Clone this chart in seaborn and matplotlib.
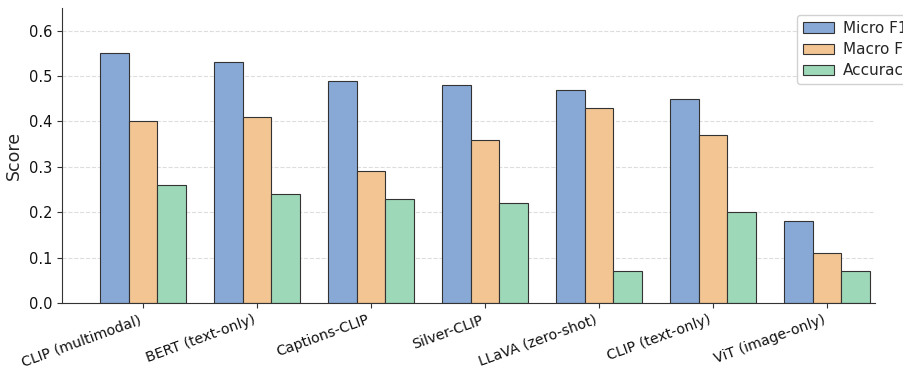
import matplotlib
matplotlib.use("Agg")
import matplotlib.pyplot as plt
import seaborn as sns
import pandas as pd
from matplotlib.patches import Patch

models = ["CLIP (multimodal)", "BERT (text-only)", "Captions-CLIP", "Silver-CLIP",
          "LLaVA (zero-shot)", "CLIP (text-only)", "ViT (image-only)"]
micro_f1 = [0.55, 0.53, 0.49, 0.48, 0.47, 0.45, 0.18]
macro_f1 = [0.40, 0.41, 0.29, 0.36, 0.43, 0.37, 0.11]
accuracy = [0.26, 0.24, 0.23, 0.22, 0.07, 0.20, 0.07]
metrics = ["Micro F1", "Macro F1", "Accuracy"]
colors = ["#88a9d6", "#f2c592", "#9dd8b8"]

rows = []
for name, vals in zip(metrics, [micro_f1, macro_f1, accuracy]):
    for m, v in zip(models, vals):
        rows.append({"Model": m, "Metric": name, "Score": v})
df = pd.DataFrame(rows)

sns.set_style("white")
plt.rcParams["font.family"] = ["DejaVu Sans"]
fig = plt.figure(figsize=(9.04, 3.67), dpi=100)
ax = fig.add_axes([62/904, 1-303/367, (875-62)/904, (303-8)/367])
sns.barplot(data=df, x="Model", y="Score", hue="Metric", palette=colors, saturation=1,
            width=0.75, edgecolor="#333333", linewidth=0.8, ax=ax, legend=False)

ax.set_ylim(0, 0.65)
ax.set_xlim(-0.71, 6.42)
ax.set_xlabel("")
ax.set_ylabel("Score", fontsize=12.5)
ax.set_yticks([0.0, 0.1, 0.2, 0.3, 0.4, 0.5, 0.6])
ax.tick_params(axis="y", labelsize=10.5, left=True, length=3.5, color="#333333", labelcolor="#111111")
ax.tick_params(axis="x", labelsize=10.2, bottom=True, length=3.5, color="#333333", labelcolor="#111111")
plt.setp(ax.get_xticklabels(), rotation=20, ha="right")
ax.yaxis.grid(True, linestyle="--", color="#dddddd", linewidth=0.8)
ax.set_axisbelow(True)
for s in ["top", "right"]:
    ax.spines[s].set_visible(False)
for s in ["left", "bottom"]:
    ax.spines[s].set_color("#333333")

handles = [Patch(facecolor=c, edgecolor="#333333", linewidth=0.8, label=l) for c, l in zip(colors, metrics)]
fig.legend(handles=handles, loc="upper left", bbox_to_anchor=(797/904, 1-15/367),
           borderaxespad=0, fontsize=11, labelspacing=0.4, handletextpad=0.6,
           frameon=True, framealpha=0.9, edgecolor="#cccccc")

fig.savefig("out.png", dpi=100)
